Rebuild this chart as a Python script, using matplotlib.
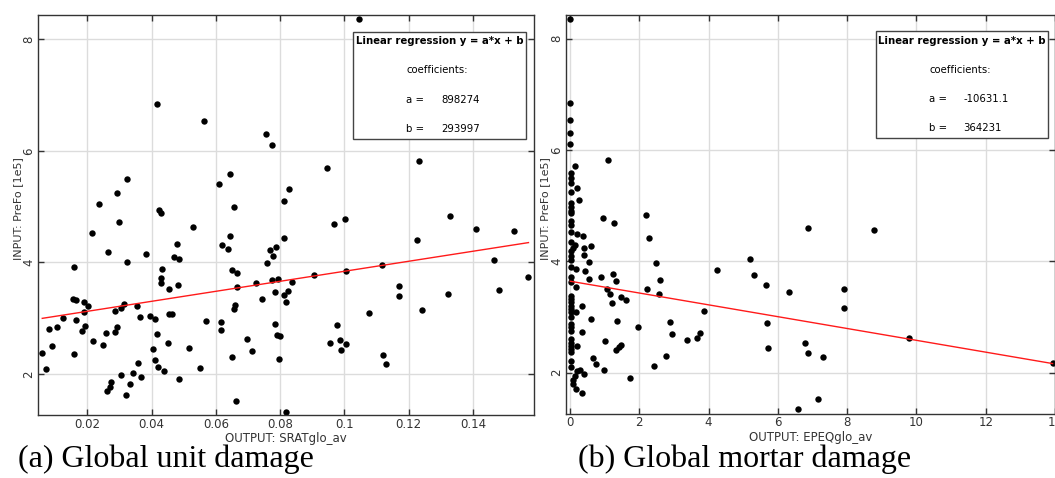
import matplotlib
matplotlib.use('Agg')
import matplotlib.pyplot as plt
from matplotlib.patches import Rectangle

# panel (a): SRATglo_av vs PreFo [1e5]
x_a = [0.0417, 0.0563, 0.0755, 0.0774, 0.0323, 0.0293, 0.0236, 0.0423, 0.0428, 0.0300,
       0.0214, 0.0528, 0.0611, 0.0645, 0.0657, 0.0645, 0.0265, 0.0323, 0.0383, 0.0478,
       0.0469, 0.0485, 0.0434, 0.0428, 0.0431, 0.0454, 0.0482, 0.0158, 0.0155, 0.0166,
       0.0189, 0.0202, 0.0190, 0.0125, 0.0166, 0.0081, 0.0105, 0.0193, 0.0184, 0.0217,
       0.0089, 0.0060, 0.0159, 0.0071, 0.0258, 0.0250, 0.0285, 0.0292, 0.0285, 0.0304,
       0.0315, 0.0354, 0.0365, 0.0396, 0.0410, 0.0416, 0.0453, 0.0464, 0.0452, 0.0404,
       0.0516, 0.0410, 0.0421, 0.0438, 0.0358, 0.0341, 0.0366, 0.0304, 0.0333, 0.0275,
       0.0272, 0.0262, 0.0320, 0.0485, 0.0551, 0.0569, 0.0616, 0.0615, 0.0619, 0.0637,
       0.0652, 0.0665, 0.0666, 0.0660, 0.0657, 0.0652, 0.0663, 0.0696, 0.0713, 0.0724,
       0.0743, 0.0759, 0.0812, 0.0770, 0.0777, 0.0786, 0.0775, 0.0795, 0.0784, 0.0812,
       0.0826, 0.0818, 0.0836, 0.0907, 0.1005, 0.1117, 0.1225, 0.1409, 0.1528, 0.1465,
       0.1480, 0.1573, 0.1323, 0.1242, 0.1170, 0.1171, 0.1076, 0.0976, 0.0955, 0.0987,
       0.1005, 0.0989, 0.0784, 0.0792, 0.0799, 0.0796, 0.1121, 0.1130, 0.0820, 0.1047,
       0.0947, 0.1231, 0.0828, 0.0812, 0.0967, 0.1001, 0.1328]
y_a = [6.84, 6.53, 6.30, 6.11, 5.49, 5.25, 5.04, 4.93, 4.88, 4.73,
       4.52, 4.64, 5.40, 5.58, 4.99, 4.48, 4.18, 4.01, 4.15, 4.33,
       4.10, 4.06, 3.885, 3.72, 3.62, 3.52, 3.59, 3.91, 3.35, 3.32,
       3.28, 3.21, 3.11, 3.00, 2.97, 2.81, 2.83, 2.86, 2.77, 2.59,
       2.49, 2.38, 2.36, 2.08, 2.74, 2.51, 2.75, 2.84, 3.13, 3.18,
       3.26, 3.22, 3.02, 3.04, 2.98, 2.71, 3.07, 3.08, 2.55, 2.45,
       2.47, 2.24, 2.13, 2.05, 2.19, 2.02, 1.95, 1.98, 1.81, 1.86,
       1.76, 1.69, 1.62, 1.91, 2.11, 2.95, 2.92, 2.79, 4.31, 4.24,
       3.86, 3.81, 3.55, 3.24, 3.17, 2.30, 1.51, 2.62, 2.40, 3.63,
       3.34, 3.98, 4.44, 4.22, 4.12, 4.27, 3.68, 3.70, 3.47, 3.41,
       3.49, 3.29, 3.65, 3.77, 3.84, 3.96, 4.40, 4.60, 4.57, 4.04,
       3.51, 3.74, 3.43, 3.15, 3.575, 3.39, 3.09, 2.88, 2.56, 2.61,
       2.53, 2.43, 2.90, 2.70, 2.68, 2.27, 2.34, 2.17, 1.32, 8.36,
       5.70, 5.81, 5.31, 5.10, 4.68, 4.77, 4.83]

# panel (b): EPEQglo_av vs PreFo [1e5]
x_b = [0.01, 0.01, 0.01, 0.01, 0.01, 1.11, 0.15, 0.02, 0.02, 0.02,
       0.21, 0.02, 0.26, 0.02, 0.02, 0.02, 0.02, 0.96, 1.28, 0.02,
       0.02, 2.18, 0.02, 0.19, 0.38, 2.29, 0.02, 0.14, 0.10, 0.62,
       0.40, 0.40, 0.02, 0.02, 0.02, 0.55, 2.48, 0.02, 0.17, 0.43,
       0.02, 0.56, 0.89, 1.24, 1.34, 0.02, 0.17, 2.59, 2.22, 2.57,
       1.08, 1.15, 1.48, 1.63, 1.20, 0.02, 0.02, 0.02, 0.02, 0.02,
       0.02, 0.02, 0.02, 0.02, 0.02, 0.17, 0.35, 0.60, 1.36, 1.97,
       2.90, 0.36, 0.02, 0.02, 0.02, 0.02, 0.02, 0.21, 1.01, 1.32,
       1.42, 1.47, 2.78, 0.65, 0.75, 0.98, 2.43, 0.02, 0.02, 0.21,
       0.29, 0.40, 0.10, 0.10, 0.17, 0.14, 0.36, 1.72, 3.88, 2.95,
       3.38, 3.66, 3.75, 4.25, 5.20, 5.30, 5.66, 5.69, 5.72, 6.32,
       6.57, 6.87, 8.78, 7.90, 7.90, 6.78, 6.87, 7.30, 7.16, 9.80,
       13.93]
y_b = [8.36, 6.85, 6.54, 6.30, 6.11, 5.82, 5.71, 5.59, 5.50, 5.40,
       5.32, 5.25, 5.11, 5.05, 4.98, 4.91, 4.87, 4.78, 4.69, 4.73,
       4.66, 4.83, 4.52, 4.49, 4.45, 4.42, 4.34, 4.30, 4.24, 4.28,
       4.23, 4.12, 4.18, 4.09, 4.02, 3.99, 3.97, 3.90, 3.87, 3.82,
       3.72, 3.69, 3.71, 3.77, 3.65, 3.62, 3.54, 3.66, 3.50, 3.41,
       3.50, 3.42, 3.35, 3.30, 3.25, 3.38, 3.32, 3.26, 3.20, 3.14,
       3.08, 3.00, 2.87, 2.81, 2.75, 3.08, 3.19, 2.97, 2.93, 2.81,
       2.91, 2.73, 2.60, 2.54, 2.48, 2.42, 2.37, 2.47, 2.56, 2.41,
       2.46, 2.49, 2.30, 2.26, 2.15, 2.05, 2.12, 2.20, 2.10, 2.02,
       2.04, 1.97, 1.87, 1.80, 1.71, 1.93, 1.63, 1.91, 3.11, 2.69,
       2.58, 2.63, 2.71, 3.84, 4.05, 3.75, 3.58, 2.89, 2.44, 3.44,
       1.34, 4.60, 4.57, 3.51, 3.16, 2.54, 2.35, 2.28, 1.53, 2.62,
       2.17]

coef_a = (898274, 293997)
coef_b = (-10631.1, 364231)

xticks_a = [0.02, 0.04, 0.06, 0.08, 0.1, 0.12, 0.14]
xticklabels_a = ['0.02', '0.04', '0.06', '0.08', '0.1', '0.12', '0.14']
xticks_b = [0, 2, 4, 6, 8, 10, 12, 14]
xticklabels_b = ['0', '2', '4', '6', '8', '10', '12', '14']
yticks = [2, 4, 6, 8]

xlabel_a = 'OUTPUT: SRATglo_av'
xlabel_b = 'OUTPUT: EPEQglo_av'
ylabel = 'INPUT: PreFo [1e5]'
caption_a = '(a) Global unit damage'
caption_b = '(b) Global mortar damage'

GRAY = '#333333'


def draw_panel(ax, xs, ys, coef, xlim, xticks, xticklabels, xlabel, ylab_x):
    ax.set_axisbelow(True)
    ax.grid(True, color='#dcdcdc', linewidth=1)
    ax.plot(xs, ys, 'o', color='black', markersize=4.6, markeredgewidth=0)
    a, b = coef
    x0, x1 = min(xs), max(xs)
    ax.plot([x0, x1], [(a * x0 + b) / 1e5, (a * x1 + b) / 1e5], color='#ff1a1a', linewidth=1)
    ax.set_xlim(xlim)
    ax.set_ylim(1.26, 8.436)
    ax.set_xticks(xticks)
    ax.set_xticklabels(xticklabels)
    ax.set_yticks(yticks)
    ax.set_yticklabels([str(t) for t in yticks], rotation=90, va='center')
    ax.tick_params(direction='in', length=4, width=1, top=True, right=True,
                   labelsize=8.5, labelcolor=GRAY, color=GRAY, pad=2)
    for s in ax.spines.values():
        s.set_color(GRAY)
        s.set_linewidth(1)
    ax.set_xlabel(xlabel, fontsize=8.5, color=GRAY, labelpad=1)
    ax.set_ylabel(ylabel, fontsize=8, color=GRAY)
    ax.yaxis.set_label_coords(ylab_x, 0.515)

    # regression box
    ax.add_patch(Rectangle((0.635, 0.69), 0.35, 0.268, transform=ax.transAxes,
                           facecolor='white', edgecolor='#444444', linewidth=1, zorder=5))
    ax.text(0.81, 0.934, 'Linear regression y = a*x + b', transform=ax.transAxes,
            ha='center', va='center', fontsize=7.3, fontweight='bold', zorder=6)
    ax.text(0.806, 0.862, 'coefficients:', transform=ax.transAxes,
            ha='center', va='center', fontsize=7.3, zorder=6)
    ax.text(0.742, 0.788, 'a =', transform=ax.transAxes,
            ha='left', va='center', fontsize=7.3, zorder=6)
    ax.text(0.813, 0.788, '%g' % a if a != int(a) else str(int(a)), transform=ax.transAxes,
            ha='left', va='center', fontsize=7.3, zorder=6)
    ax.text(0.742, 0.716, 'b =', transform=ax.transAxes,
            ha='left', va='center', fontsize=7.3, zorder=6)
    ax.text(0.813, 0.716, str(int(b)), transform=ax.transAxes,
            ha='left', va='center', fontsize=7.3, zorder=6)


fig = plt.figure(figsize=(10.55, 4.78), dpi=100)
ax1 = fig.add_axes([0.036, 0.1318, 0.4701, 0.8368])
ax2 = fig.add_axes([0.5362, 0.1345, 0.4638, 0.8351])

draw_panel(ax1, x_a, y_a, coef_a, (0.00467, 0.159), xticks_a, xticklabels_a, xlabel_a, -0.031)
draw_panel(ax2, x_b, y_b, coef_b, (-0.124, 13.93), xticks_b, xticklabels_b, xlabel_b, -0.0315)

fig.text(18 / 1055, 1 - 467 / 478, caption_a, family='Liberation Serif', fontsize=23,
         ha='left', va='baseline')
fig.text(578 / 1055, 1 - 467 / 478, caption_b, family='Liberation Serif', fontsize=23,
         ha='left', va='baseline')

fig.savefig('out.png', dpi=100)
